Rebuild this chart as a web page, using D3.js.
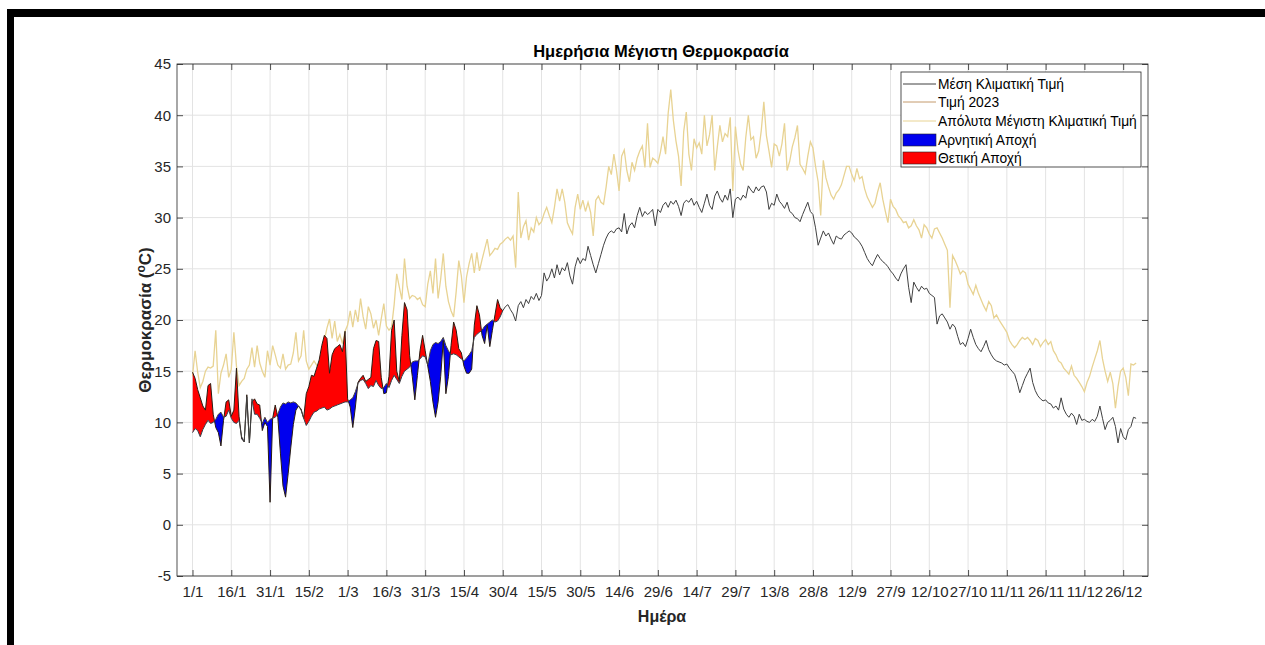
<!DOCTYPE html>
<html>
<head>
<meta charset="utf-8">
<script type="text/javascript" src="https://cdn.jsdelivr.net/npm/d3@7/dist/d3.min.js"></script>
<style>
  body { margin: 0; background: white; }
  text { font-family: "Liberation Sans", Arial, sans-serif; }
</style>
</head>
<body>
<script>

// data (day of year 1..366)

var meanClim = [
  9.0,9.4,9.2,8.6,9.3,9.8,10.2,9.9,10.0,10.3, 10.8,11.0,10.5,10.6,11.2,10.4,10.0,9.9,10.2,8.6,
  8.1,12.5,8.0,12.3,10.8,10.8,10.4,9.9,10.5,10.0, 10.3,10.4,10.5,10.8,11.5,11.9,11.8,12.0,11.9,12.0,
  11.9,11.6,11.2,10.4,9.7,10.1,10.6,11.0,11.1,11.3, 11.4,11.5,11.2,11.3,11.5,11.6,11.7,11.8,11.9,12.0,
  12.0,12.2,12.4,13.0,13.8,14.1,14.2,13.8,13.3,13.6, 13.5,14.1,13.6,13.3,13.4,13.8,13.4,14.1,14.6,14.2,
  13.8,14.5,15.0,15.2,15.4,15.9,16.0,16.0,16.2,16.5, 16.4,15.6,17.0,17.6,17.8,17.7,17.9,18.3,17.5,17.0,
  16.6,16.7,16.6,16.4,16.2,16.0,16.3,16.6,17.0,18.3, 18.6,18.8,19.0,19.4,19.6,19.8,20.0,19.8,19.9,20.3,
  20.9,
  21.3,21.5,21.0,20.6,19.9,21.4,21.8,21.2,22.0,
  21.6,22.3,22.0,22.6,21.9,22.4,24.6,23.8,24.2,25.0, 24.1,25.4,24.4,25.1,24.8,25.6,24.3,23.5,25.2,26.1,
  25.5,26.0,25.8,27.2,26.3,25.4,24.6,25.5,26.4,27.3, 28.0,28.5,28.7,28.5,28.9,29.0,28.6,30.4,28.4,29.2,
  29.5,29.0,30.2,31.0,30.1,30.6,30.3,30.5,30.8,29.2,
  30.8,30.5,31.2,31.5,31.0,31.6,31.3,31.7,31.1,30.2, 31.4,31.7,31.5,31.9,31.2,31.6,31.0,30.5,31.4,32.3,
  31.2,30.8,32.1,32.6,31.9,31.5,32.2,31.7,32.8,30.0, 31.8,32.0,31.7,32.2,31.9,33.1,32.7,32.4,33.0,32.6,
  33.0,33.1,32.5,30.8,31.4,31.2,32.3,31.6,31.3,30.9, 31.5,30.6,30.4,30.0,29.9,29.6,30.3,30.9,31.5,30.6,
  30.3,29.0,27.3,28.0,28.7,28.2,28.5,27.9,27.4,28.2,
  28.0,27.9,28.3,28.5,28.7,28.5,28.1,27.9,27.6,27.2, 26.6,26.0,25.6,25.3,25.9,26.4,26.0,25.7,25.5,25.2,
  24.8,24.5,24.1,23.8,24.5,25.0,25.4,23.2,21.7,23.7, 23.2,22.8,23.3,23.0,23.1,22.6,22.4,22.2,19.6,20.4,
  20.6,20.2,19.8,19.1,19.6,19.3,18.4,17.6,17.8,17.4, 18.2,19.1,18.3,17.6,17.2,16.9,17.4,18.0,17.1,16.6,
  16.2,16.0,15.9,15.8,15.6,15.7,15.3,15.0,14.7,13.9, 12.9,13.6,14.3,14.8,15.3,13.9,13.1,12.6,12.3,12.1,
  12.2,11.9,11.8,11.4,11.6,11.2,12.4,11.3,10.8,10.5, 10.9,10.6,9.8,10.8,10.2,10.3,10.1,10.0,10.3,10.1,
  10.6,11.6,10.4,9.3,10.0,10.2,10.5,9.6,8.0,9.4, 8.6,8.3,9.3,9.6,10.5,10.4
];

var absMax = [
  14.5,17.0,14.9,13.4,14.0,15.0,15.4,15.3,15.5,19.0, 12.8,14.8,15.6,16.7,14.4,15.2,18.8,15.5,13.6,14.0,
  14.3,15.2,15.6,17.3,15.4,17.5,15.8,15.0,14.4,17.0,
  15.6,17.5,16.6,15.6,15.3,16.7,15.2,15.6,15.7,16.8, 18.8,16.0,16.5,19.0,16.0,15.2,15.6,16.0,15.6,15.3,
  16.4,18.0,19.2,20.1,18.2,19.9,17.9,18.6,17.7,18.9,
  19.5,20.9,19.3,21.0,19.8,22.1,20.3,19.1,21.3,20.6, 19.2,20.0,18.5,20.1,21.6,19.4,19.0,19.3,21.5,24.5,
  23.2,22.0,26.0,23.3,22.1,22.4,22.3,22.0,22.2,21.5,
  21.3,23.5,24.8,22.6,26.0,22.1,24.0,26.5,23.3,21.8, 20.9,20.3,22.8,25.8,24.3,21.7,24.2,25.5,26.5,24.6,
  26.6,24.8,25.9,26.9,27.9,26.3,26.6,27.0,26.9,27.4,
  27.6,27.9,28.1,27.8,28.2,25.1,32.5,28.0,29.1,29.7, 27.8,29.0,28.6,30.0,29.3,29.6,30.4,31.0,30.2,29.5,
  31.0,32.8,31.6,32.8,31.5,29.5,28.9,28.4,31.0,32.3, 30.8,31.7,30.6,31.5,30.5,28.2,31.7,32.1,31.5,31.3,
  33.0,35.0,34.2,36.2,34.6,32.6,36.0,36.6,34.6,33.5, 35.4,34.6,35.8,36.5,37.0,34.9,39.2,34.9,35.8,35.6,
  35.3,36.4,37.9,36.2,40.2,42.5,39.5,37.5,36.0,33.1, 38.4,40.3,36.2,34.6,37.7,36.8,37.3,36.2,40.0,37.0,
  38.1,40.0,34.6,36.9,39.0,37.4,38.2,37.9,39.8,32.6, 38.9,36.6,35.2,34.6,37.8,40.0,37.6,37.9,35.8,36.5,
  38.5,41.3,38.0,36.5,34.9,37.2,37.0,36.0,37.2,39.2, 34.6,35.5,36.9,37.8,39.0,35.2,34.8,34.3,36.0,37.4,
  36.8,35.0,33.5,30.2,35.6,33.9,33.0,32.2,31.8,32.4,
  32.7,33.2,34.1,35.0,35.0,34.2,33.6,34.8,33.8,34.0, 32.8,32.0,31.5,31.0,31.4,32.5,33.4,31.8,30.6,29.5,
  31.8,31.1,30.8,30.2,29.9,29.5,29.6,29.0,29.2,29.8, 29.2,28.8,28.0,29.3,29.0,28.4,28.0,28.9,29.0,28.5,
  28.0,27.4,26.8,21.2,26.3,25.8,25.2,24.5,24.8,24.6, 23.5,23.0,22.5,23.4,22.6,22.0,21.4,20.9,21.8,21.4,
  20.2,20.5,20.0,19.6,19.2,18.8,18.0,17.6,17.3,17.6, 18.0,18.3,18.1,18.3,18.0,17.6,18.2,18.0,17.4,17.8,
  18.1,17.6,17.9,17.0,16.6,16.0,15.8,15.3,15.0,14.7, 15.5,14.6,14.3,13.9,13.5,13.0,13.9,14.5,15.4,16.2,
  17.0,18.0,16.2,15.0,14.0,14.9,13.8,11.4,13.5,15.0, 15.3,14.4,12.6,15.7,15.6,15.8
];

// 2023 values, days 1..121
var value2023 = [
  14.9,14.3,13.2,12.4,11.6,11.2,13.6,13.8,10.8,9.5, 9.0,7.7,10.2,12.0,12.2,10.6,11.2,15.3,10.6,8.4,
  8.1,12.7,8.0,12.0,12.3,11.8,11.7,9.2,10.0,9.6, 2.2,10.4,11.7,10.5,7.0,3.8,2.7,5.0,7.5,9.8,
  11.2,11.6,11.3,10.4,12.8,13.5,14.6,14.5,15.3,16.1, 17.5,18.5,18.2,14.8,16.6,17.2,17.4,17.6,16.9,18.9,
  12.3,11.5,9.5,11.5,13.9,14.3,14.6,14.0,14.2,14.4, 17.2,18.0,17.9,14.4,12.8,12.9,14.5,19.0,20.0,15.0,
  14.0,18.5,21.7,21.0,16.5,14.5,12.2,14.6,17.0,18.5, 17.0,15.5,14.0,12.0,10.5,12.0,14.5,18.0,12.8,14.5,
  17.5,19.8,19.0,17.2,16.8,15.5,14.8,14.8,15.2,19.5, 21.4,20.5,18.5,17.7,19.5,17.4,19.0,20.5,22.0,21.2,
  20.9
];

var xTickDays = [1,16,31,46,61,76,91,106,121,136,151,166,181,196,211,226,241,256,271,286,301,316,331,346,361];
var xTickLabels = ["1/1","16/1","31/1","15/2","1/3","16/3","31/3","15/4","30/4","15/5","30/5","14/6","29/6",
                   "14/7","29/7","13/8","28/8","12/9","27/9","12/10","27/10","11/11","26/11","11/12","26/12"];
var yTicks = [-5,0,5,10,15,20,25,30,35,40,45];

var legendLabels = ["Μέση Κλιματική Τιμή","Τιμή 2023","Απόλυτα Μέγιστη Κλιματική Τιμή","Αρνητική Αποχή","Θετική Αποχή"];

// layout (plot box in page pixels)
var W = 1265, H = 645,
    pLeft = 177, pRight = 1148, pTop = 64, pBottom = 576;

var colMean = "#404040",
    col2023 = "#c49a6c",
    colAbs = "#e8d393",
    colNeg = "#0000ee",
    colPos = "#ff0000",
    axisCol = "#262626";

var svg = d3.select("body").append("svg")
            .attr("width", W)
            .attr("height", H);

// outer black frame (left and top)
svg.append("rect").attr("x",7).attr("y",9).attr("width",W-7).attr("height",8).attr("fill","#000");
svg.append("rect").attr("x",7).attr("y",9).attr("width",7).attr("height",H-9).attr("fill","#000");

var x = d3.scaleLinear().domain([-5, 370.6]).range([pLeft, pRight]);
var y = d3.scaleLinear().domain([-5, 45]).range([pBottom, pTop]);

var meanData = meanClim.map(function(v,i) { return {"d": i+1, "v": v}; });
var absData = absMax.map(function(v,i) { return {"d": i+1, "v": v}; });
var data2023 = value2023.map(function(v,i) { return {"d": i+1, "v": v, "m": meanClim[i]}; });

// grid
var g = svg.append("g");
g.selectAll("line.vgrid").data(xTickDays).enter().append("line")
  .attr("x1", function(d) { return x(d); }).attr("x2", function(d) { return x(d); })
  .attr("y1", pTop).attr("y2", pBottom)
  .attr("stroke", "#e3e3e3").attr("stroke-width", 1);
g.selectAll("line.hgrid").data(yTicks).enter().append("line")
  .attr("x1", pLeft).attr("x2", pRight)
  .attr("y1", function(d) { return y(d); }).attr("y2", function(d) { return y(d); })
  .attr("stroke", "#e3e3e3").attr("stroke-width", 1);

var line = d3.line()
  .x(function(d) { return x(d.d); })
  .y(function(d) { return y(d.v); });

// absolute max
g.append("path").datum(absData)
  .attr("d", line).attr("fill","none").attr("stroke", colAbs).attr("stroke-width", 1.3);

// clip regions above / below the mean line
var defs = svg.append("defs");
defs.append("clipPath").attr("id","above").append("path").datum(meanData)
  .attr("d", d3.area().x(function(d) { return x(d.d); }).y0(pTop - 5).y1(function(d) { return y(d.v); }));
defs.append("clipPath").attr("id","below").append("path").datum(meanData)
  .attr("d", d3.area().x(function(d) { return x(d.d); }).y0(pBottom + 5).y1(function(d) { return y(d.v); }));

var between = d3.area()
  .x(function(d) { return x(d.d); })
  .y0(function(d) { return y(d.m); })
  .y1(function(d) { return y(d.v); });

g.append("path").datum(data2023).attr("d", between)
  .attr("fill", colPos).attr("clip-path","url(#above)");
g.append("path").datum(data2023).attr("d", between)
  .attr("fill", colNeg).attr("clip-path","url(#below)");

// 2023 line (edge of the fills)
g.append("path").datum(data2023)
  .attr("d", line).attr("fill","none").attr("stroke", "#2a1d12").attr("stroke-width", 1);

// climatic mean
g.append("path").datum(meanData)
  .attr("d", line).attr("fill","none").attr("stroke", colMean).attr("stroke-width", 1);

// axes box
svg.append("rect").attr("x",pLeft).attr("y",pTop).attr("width",pRight-pLeft).attr("height",pBottom-pTop)
  .attr("fill","none").attr("stroke", axisCol).attr("stroke-width",0.8);

var xAxisB = d3.axisBottom(x).tickValues(xTickDays).tickFormat(function(d,i) { return xTickLabels[i]; })
               .tickSizeInner(-6).tickSizeOuter(0).tickPadding(10);
var xAxisT = d3.axisTop(x).tickValues(xTickDays).tickFormat("").tickSizeInner(-6).tickSizeOuter(0);
var yAxisL = d3.axisLeft(y).tickValues(yTicks).tickFormat(function(d) { return "" + d; })
               .tickSizeInner(-6).tickSizeOuter(0).tickPadding(6);
var yAxisR = d3.axisRight(y).tickValues(yTicks).tickFormat("").tickSizeInner(-6).tickSizeOuter(0);

function styleAxis(sel) {
  sel.select(".domain").remove();
  sel.selectAll("line").attr("stroke", axisCol).attr("stroke-width", 0.8);
  sel.selectAll("text").attr("fill", axisCol).style("font-size","15px")
     .style("font-family","'Liberation Sans', Arial, sans-serif");
}
svg.append("g").attr("transform","translate(0,"+pBottom+")").call(xAxisB).call(styleAxis);
svg.append("g").attr("transform","translate(0,"+pTop+")").call(xAxisT).call(styleAxis);
svg.append("g").attr("transform","translate("+pLeft+",0)").call(yAxisL).call(styleAxis);
svg.append("g").attr("transform","translate("+pRight+",0)").call(yAxisR).call(styleAxis);

// titles
svg.append("text").attr("x", 661).attr("y", 57).attr("text-anchor","middle")
  .style("font-size","16.5px").style("font-weight","bold").attr("fill","#000")
  .text("Ημερήσια Μέγιστη Θερμοκρασία");
svg.append("text").attr("x", 662).attr("y", 622).attr("text-anchor","middle")
  .style("font-size","16px").style("font-weight","bold").attr("fill",axisCol)
  .text("Ημέρα");
var yl = svg.append("text").attr("transform","translate(151,"+((pTop+pBottom)/2)+") rotate(-90)")
  .attr("text-anchor","middle").style("font-size","17px").style("font-weight","bold").attr("fill",axisCol);
yl.append("tspan").text("Θερμοκρασία (");
yl.append("tspan").attr("dy",-6).style("font-size","12px").text("o");
yl.append("tspan").attr("dy",6).text("C)");

// legend
var lg = svg.append("g").attr("transform","translate(901,72)");
lg.append("rect").attr("width",240).attr("height",95).attr("fill","white")
  .attr("stroke", "#262626").attr("stroke-width",0.8);
var rowY = [12, 30, 49, 68, 86];
var legendStyle = [
  {"type":"line","color":colMean},
  {"type":"line","color":col2023},
  {"type":"line","color":colAbs},
  {"type":"patch","color":colNeg},
  {"type":"patch","color":colPos}
];
legendLabels.forEach(function(lab,i) {
  var s = legendStyle[i];
  if (s.type == "line") {
    lg.append("line").attr("x1",2).attr("x2",35).attr("y1",rowY[i]).attr("y2",rowY[i])
      .attr("stroke", s.color).attr("stroke-width",1);
  } else {
    lg.append("rect").attr("x",2).attr("y",rowY[i]-6).attr("width",33).attr("height",12)
      .attr("fill", s.color).attr("stroke","#222").attr("stroke-width",0.6);
  }
  lg.append("text").attr("x",37).attr("y",rowY[i]+5).style("font-size","13.8px").attr("fill","#000")
    .text(lab);
});

</script>
</body>
</html>
